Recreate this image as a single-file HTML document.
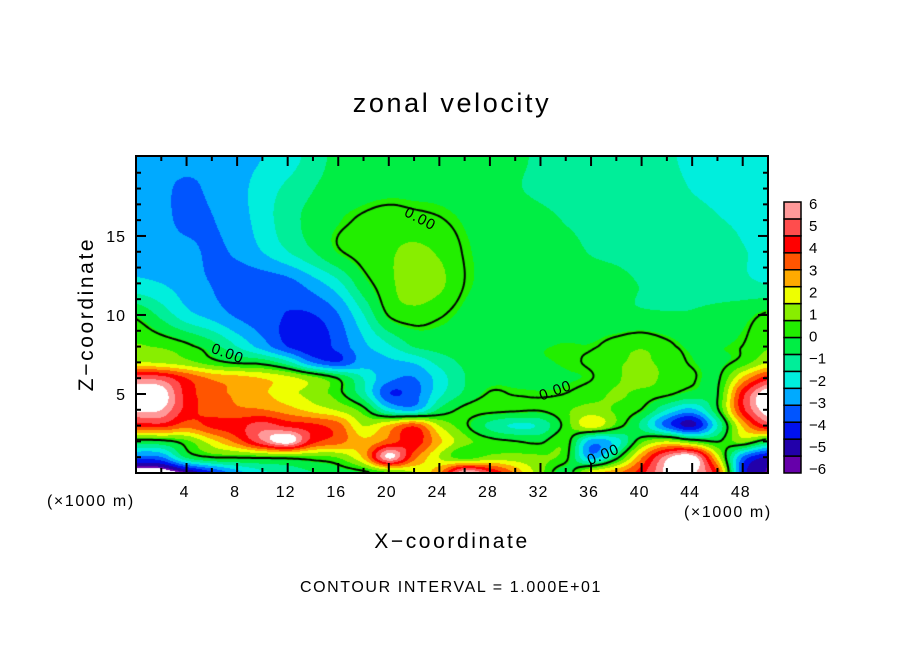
<!DOCTYPE html>
<html><head><meta charset="utf-8"><style>
html,body{margin:0;padding:0;background:#fff;width:904px;height:654px;overflow:hidden}
#wrap{position:relative;width:904px;height:654px}
canvas{position:absolute;left:136px;top:156px}
svg{position:absolute;left:0;top:0}
text{font-family:"Liberation Sans",sans-serif;fill:#000}
</style></head><body>
<div id="wrap">
<canvas id="fld" width="632" height="317"></canvas>
<svg id="ov" width="904" height="654">
<text x="452" y="112" font-size="27" letter-spacing="2.6" text-anchor="middle">zonal velocity</text>
<text x="452" y="548" font-size="21" letter-spacing="2.6" text-anchor="middle">X−coordinate</text>
<text transform="translate(93,314) rotate(-90)" font-size="21" letter-spacing="2.6" text-anchor="middle">Z−coordinate</text>
<text x="47" y="506" font-size="16" letter-spacing="1.6">(×1000 m)</text>
<text x="684" y="517" font-size="16" letter-spacing="1.6">(×1000 m)</text>
<text x="451" y="592" font-size="16" letter-spacing="1.6" text-anchor="middle">CONTOUR INTERVAL = 1.000E+01</text>
<g id="ticks"></g>
<g id="cbar"></g>
<g font-size="15" letter-spacing="1">
<text transform="translate(418,223) rotate(28)" text-anchor="middle">0.00</text>
<text transform="translate(226,358) rotate(20)" text-anchor="middle">0.00</text>
<text transform="translate(557,395) rotate(-20)" text-anchor="middle">0.00</text>
<text transform="translate(605,459) rotate(-22)" text-anchor="middle">0.00</text>
</g>
<rect x="136" y="156" width="632" height="317" fill="none" stroke="#000" stroke-width="2"/>
</svg>
</div>
<script>
const xCoords=[0,2,4,6,8,10,12,14,16,18,20,22,24,26,28,30,32,34,36,38,40,42,44,46,48,50];
const zLevels=[20,18,16,14,12,10,8,7,6,5,4,3,2,1,0];
const uZ20=[-3.1,-3.2,-3.2,-3.3,-3.0,-2.6,-2.2,-1.4,-0.7,-0.4,-0.3,-0.3,-0.3,-0.4,-0.6,-0.8,-1.1,-1.2,-1.3,-1.4,-1.5,-1.7,-1.9,-2.0,-2.2,-2.5];
const uZ18=[-3.1,-3.3,-3.6,-3.3,-2.9,-2.2,-1.6,-1.0,-0.6,-0.4,-0.3,-0.3,-0.3,-0.4,-0.6,-0.9,-1.1,-1.2,-1.3,-1.4,-1.5,-1.6,-1.8,-1.9,-2.0,-2.2];
const uZ16=[-3.0,-3.2,-3.7,-3.5,-3.0,-2.2,-1.3,-0.7,-0.2,0.1,0.3,0.2,0.05,-0.2,-0.4,-0.6,-0.8,-1.0,-1.1,-1.2,-1.3,-1.45,-1.6,-1.75,-1.85,-2.0];
const uZ14=[-2.8,-3.0,-3.2,-3.6,-3.3,-2.6,-1.8,-1.0,-0.1,0.3,0.6,0.9,0.6,-0.05,-0.3,-0.5,-0.7,-0.8,-1.0,-1.1,-1.2,-1.3,-1.45,-1.6,-1.75,-1.9];
const uZ12=[-2.4,-2.6,-3.0,-3.5,-3.9,-4.0,-3.8,-3.0,-2.0,-0.4,0.5,1.2,0.9,0.0,-0.3,-0.4,-0.5,-0.6,-0.7,-0.8,-1.0,-1.1,-1.2,-1.4,-1.6,-1.8];
const uZ10=[-0.2,-1.2,-2.3,-2.9,-3.6,-4.0,-4.3,-4.3,-3.5,-1.8,0.05,0.4,0.1,-0.3,-0.5,-0.6,-0.6,-0.7,-0.7,-0.8,-0.85,-0.9,-0.9,-0.7,-0.4,0.1];
const uZ8=[0.8,0.6,0.2,-0.6,-1.8,-3.0,-4.3,-4.8,-4.0,-2.8,-1.9,-0.9,-0.6,-0.5,-0.4,-0.3,-0.2,-0.1,-0.1,0.3,0.6,0.2,-0.3,-0.2,0.0,0.6];
const uZ7=[1.6,1.4,1.0,0.3,-0.2,-0.4,-1.5,-3.5,-4.2,-3.0,-2.8,-2.5,-1.5,-0.8,-0.5,-0.3,-0.2,-0.1,0.1,0.6,0.8,0.5,-0.1,-0.3,0.3,1.5];
const uZ6=[5.5,5.3,4.0,3.0,2.7,2.3,1.8,1.0,-0.1,-1.8,-3.2,-3.5,-2.2,-1.0,-0.4,-0.3,-0.3,-0.2,-0.05,0.6,1.0,0.5,0.1,-0.2,2.5,4.5];
const uZ5=[7,6.8,4.5,3.5,3.0,2.5,1.8,1.2,0.3,-1.5,-4.2,-3.8,-2.0,-0.8,0.05,-0.05,-0.1,0.0,0.4,0.8,0.5,0.2,-0.4,-0.1,4.5,7];
const uZ4=[6.5,6.3,4.5,3.6,3.3,3.2,2.7,2.0,1.4,0.3,-2.2,-2.8,-0.8,0.2,0.3,0.2,0.1,0.6,1.0,0.6,0.0,-1.8,-2.8,-0.2,4.5,6.8];
const uZ3=[4.2,4.4,3.5,4.2,4.5,5.2,4.6,4.2,3.5,1.5,2.5,3.8,1.5,0.2,-1.2,-1.9,-1.6,0.3,2.0,0.5,-1.2,-3.8,-5.3,-1.8,2.5,5];
const uZ2=[-0.3,-0.2,0.5,2.0,3.5,5.5,6.8,4.3,3.5,2.5,3.5,4.5,2.5,1.0,0.3,0.0,-0.2,0.5,-3.0,-2.2,0.5,1.5,0.5,-0.1,1.0,-0.5];
const uZ1=[-3.8,-3.5,-0.8,0.1,0.2,0.3,0.4,0.5,0.8,2.5,6.5,3.5,1.5,0.3,1.0,1.0,0.8,0.3,-3.0,-0.5,3.0,6.0,6.8,2.0,-3.5,-5.2];
const uZ0=[-7,-7,-6,-4.5,-3,-2,-1.5,-1,-0.5,-0.2,0.5,1.5,3,6.5,5,3,1,-0.5,2,3,4.5,6.5,6.5,4,-4.5,-6];
const fieldRows=[uZ20,uZ18,uZ16,uZ14,uZ12,uZ10,uZ8,uZ7,uZ6,uZ5,uZ4,uZ3,uZ2,uZ1,uZ0];
const levelEdges=[-5.9,-5.1,-4.27,-3.46,-2.6,-1.78,-0.97,-0.15,0.71,1.52,2.33,3.15,4.0,4.82,5.64];
const levelColors=['#6600aa','#2200aa','#0011ee','#0055ff','#00aaff','#00eedd','#00ee99','#00ee44','#22ee00','#88ee00','#eeff00','#ffaa00','#ff5500','#ff0000','#ff4d4d','#ff9999'];
const cbarLabels=['6','5','4','3','2','1','0','−1','−2','−3','−4','−5','−6'];
const xTickLabels=[4,8,12,16,20,24,28,32,36,40,44,48];
const yTickLabels=[5,10,15];

const X0=136,Y0=156,W=632,H=317,XMAX=50,ZMAX=20.06;
const xs=x=>X0+x*W/XMAX, ys=z=>Y0+H-z*H/ZMAX;

function cr(p0,p1,p2,p3,t){return 0.5*((2*p1)+(-p0+p2)*t+(2*p0-5*p1+4*p2-p3)*t*t+(-p0+3*p1-3*p2+p3)*t*t*t);}
function gv(r,c){r=Math.max(0,Math.min(fieldRows.length-1,r));c=Math.max(0,Math.min(xCoords.length-1,c));return fieldRows[r][c];}
function zIndex(z){for(let i=0;i<zLevels.length-1;i++){if(z<=zLevels[i]&&z>=zLevels[i+1])return i+(zLevels[i]-z)/(zLevels[i]-zLevels[i+1]);}return z>zLevels[0]?0:zLevels.length-1;}
function field(x,z){
  const fc=Math.max(0,Math.min(xCoords.length-1.0001,x/2)), fr=Math.max(0,Math.min(zLevels.length-1.0001,zIndex(z)));
  const c=Math.floor(fc),r=Math.floor(fr),tc=fc-c,tr=fr-r;const row=[];
  for(let k=-1;k<=2;k++)row.push(cr(gv(r+k,c-1),gv(r+k,c),gv(r+k,c+1),gv(r+k,c+2),tc));
  return cr(row[0],row[1],row[2],row[3],tr);
}
function hex(c){return [parseInt(c.slice(1,3),16),parseInt(c.slice(3,5),16),parseInt(c.slice(5,7),16)];}
const rgbs=levelColors.map(hex);
function colorIdx(v){if(v>6.3||v<-6.3)return -1;let k=0;while(k<levelEdges.length&&v>=levelEdges[k])k++;return k;}

const cv=document.getElementById('fld'),ctx=cv.getContext('2d');
const img=ctx.createImageData(W,H);const F=new Float32Array(W*H);
for(let j=0;j<H;j++){const z=(H-j-0.5)*ZMAX/H;for(let i=0;i<W;i++){const x=(i+0.5)*XMAX/W;const v=field(x,z);F[j*W+i]=v;
  const k=colorIdx(v);const p=(j*W+i)*4;const c=k<0?[255,255,255]:rgbs[k];img.data[p]=c[0];img.data[p+1]=c[1];img.data[p+2]=c[2];img.data[p+3]=255;}}
ctx.putImageData(img,0,0);
ctx.strokeStyle='#000';ctx.lineWidth=2;ctx.beginPath();
const S=2;
for(let j=0;j+S<H;j+=S)for(let i=0;i+S<W;i+=S){
  const a=F[j*W+i],b=F[j*W+i+S],c=F[(j+S)*W+i+S],d=F[(j+S)*W+i];
  const pts=[];
  if((a<0)!==(b<0))pts.push([i+S*a/(a-b),j]);
  if((b<0)!==(c<0))pts.push([i+S,j+S*b/(b-c)]);
  if((d<0)!==(c<0))pts.push([i+S*d/(d-c),j+S]);
  if((a<0)!==(d<0))pts.push([i,j+S*a/(a-d)]);
  if(pts.length>=2){ctx.moveTo(pts[0][0],pts[0][1]);ctx.lineTo(pts[1][0],pts[1][1]);}
  if(pts.length===4){ctx.moveTo(pts[2][0],pts[2][1]);ctx.lineTo(pts[3][0],pts[3][1]);}
}
ctx.stroke();

const NS='http://www.w3.org/2000/svg';
function mk(tag,attrs,parent){const e=document.createElementNS(NS,tag);for(const k in attrs)e.setAttribute(k,attrs[k]);parent.appendChild(e);return e;}
const tg=document.getElementById('ticks');
for(let x=2;x<50;x+=2){const major=x%4===0;const L=major?10:5;
  let t=mk('line',{x1:xs(x),x2:xs(x),y1:Y0+H,y2:Y0+H-L,stroke:'#000','stroke-width':2},tg);
  
  
  t=mk('line',{x1:xs(x),x2:xs(x),y1:Y0,y2:Y0+L,stroke:'#000','stroke-width':2},tg);
  
  }
for(let z=1;z<20;z++){const major=z%5===0;const L=major?10:5;
  let t=mk('line',{x1:X0,x2:X0+L,y1:ys(z),y2:ys(z),stroke:'#000','stroke-width':2},tg);
  
  
  t=mk('line',{x1:X0+W,x2:X0+W-L,y1:ys(z),y2:ys(z),stroke:'#000','stroke-width':2},tg);
  
  }
xTickLabels.forEach(v=>{const t=mk('text',{x:xs(v)-2,y:497,'font-size':16,'letter-spacing':1,'text-anchor':'middle'},tg);t.textContent=v;
  
  });
yTickLabels.forEach(v=>{const t=mk('text',{x:126,y:ys(v)+6,'font-size':16,'letter-spacing':1,'text-anchor':'end'},tg);t.textContent=v;
  
  });
const cb=document.getElementById('cbar');const cbTop=202,cbBot=473,n=levelColors.length,bh=(cbBot-cbTop)/n;
for(let k=0;k<n;k++){const r=mk('rect',{x:784,y:cbBot-(k+1)*bh,width:17,height:bh,fill:levelColors[k],stroke:'#000','stroke-width':1.5},cb);
  
  }
cbarLabels.forEach((s,i)=>{const t=mk('text',{x:809,y:209+i*22.1,'font-size':15},cb);t.textContent=s;
  
  });
</script>
</body></html>
